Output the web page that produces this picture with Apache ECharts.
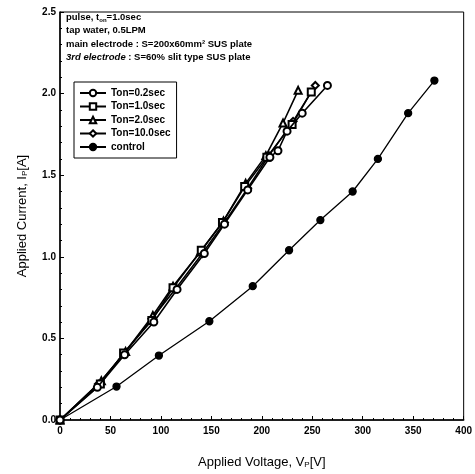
<!DOCTYPE html>
<html>
<head>
<meta charset="utf-8">
<script src="https://cdn.jsdelivr.net/npm/echarts@6/dist/echarts.min.js"></script>
<style>
  html, body { margin: 0; padding: 0; background: #fff; }
  #chart { width: 475px; height: 474px; }
</style>
</head>
<body>
<div id="chart"></div>
<script>
// data: [voltage V, current A]
const ton02 = [[0,0],[37,0.20],[64,0.40],[93,0.60],[116,0.80],[143,1.02],[163,1.20],[186,1.41],[208,1.61],[216,1.65],[225,1.77],[240,1.88],[265,2.05]];
const ton10 = [[0,0],[40,0.22],[63,0.41],[91,0.61],[112,0.81],[140,1.04],[161,1.21],[183,1.43],[205,1.61],[230,1.81],[249,2.01]];
const ton20 = [[0,0],[41,0.24],[65,0.42],[92,0.64],[112,0.82],[139,1.03],[162,1.22],[184,1.45],[204,1.62],[221,1.82],[236,2.02]];
const ton100 = [[0,0],[38,0.22],[64,0.41],[91,0.62],[114,0.80],[141,1.02],[163,1.21],[186,1.42],[207,1.62],[231,1.83],[253,2.05]];
const control = [[0,0],[56,0.205],[98,0.395],[148,0.605],[191,0.82],[227,1.04],[258,1.225],[290,1.40],[315,1.60],[345,1.88],[371,2.08]];

const seriesNames = ['Ton=0.2sec', 'Ton=1.0sec', 'Ton=2.0sec', 'Ton=10.0sec', 'control'];
const seriesData = [ton02, ton10, ton20, ton100, control];
const seriesSymbols = ['emptyCircle', 'emptyRect', 'emptyTriangle', 'emptyDiamond', 'circle'];

const font = 'Liberation Sans, Arial, sans-serif';

const chart = echarts.init(document.getElementById('chart'));

const option = {
  backgroundColor: '#fff',
  animation: false,
  grid: {
    left: 60, right: 8, top: 12, bottom: 51,
    show: true, borderColor: '#000', borderWidth: 1
  },
  xAxis: {
    type: 'value', min: 0, max: 400, interval: 50,
    name: '{a|Applied Voltage, V}{s|P}{a|[V]}',
    nameLocation: 'middle', nameGap: 35,
    nameTextStyle: {
      rich: {
        a: { fontFamily: font, fontSize: 13, color: '#000' },
        s: { fontFamily: font, fontSize: 8, color: '#000', verticalAlign: 'bottom', padding: [6, 0, 0, 0] }
      }
    },
    axisLine: { lineStyle: { color: '#000', width: 1.5 } },
    axisTick: { inside: true, length: 4, lineStyle: { color: '#000' } },
    minorTick: { show: true, splitNumber: 5, length: 2, lineStyle: { color: '#000' } },
    splitLine: { show: false },
    axisLabel: { fontFamily: font, fontSize: 10, fontWeight: 'bold', color: '#000', margin: 6 }
  },
  yAxis: {
    type: 'value', min: 0, max: 2.5, interval: 0.5,
    name: '{a|Applied Current, I}{s|P}{a|[A]}',
    nameLocation: 'middle', nameGap: 31, nameRotate: 90,
    nameTextStyle: {
      rich: {
        a: { fontFamily: font, fontSize: 13, color: '#000' },
        s: { fontFamily: font, fontSize: 8, color: '#000', verticalAlign: 'bottom', padding: [6, 0, 0, 0] }
      }
    },
    axisLine: { lineStyle: { color: '#000', width: 1.5 } },
    axisTick: { inside: true, length: 4, lineStyle: { color: '#000' } },
    minorTick: { show: true, splitNumber: 5, length: 2, lineStyle: { color: '#000' } },
    splitLine: { show: false },
    axisLabel: {
      fontFamily: font, fontSize: 10, fontWeight: 'bold', color: '#000', margin: 4,
      formatter: v => v.toFixed(1)
    }
  },
  legend: {
    orient: 'vertical', left: 74, top: 82,
    itemWidth: 26, itemHeight: 8, itemGap: 3.5,
    padding: [6, 6, 6, 5],
    borderColor: '#000', borderWidth: 1,
    textStyle: { fontFamily: font, fontSize: 10, fontWeight: 'bold', color: '#000' },
    data: seriesNames
  },
  graphic: [{
    type: 'text', left: 66, top: 12,
    style: {
      text: '{b|pulse, t}{s|on}{b|=1.0sec}\n{b|tap water, 0.5LPM}\n{b|main electrode : S=200x60mm² SUS plate}\n{i|3rd electrode}{b| : S=60% slit type SUS plate}',
      rich: {
        b: { fontFamily: font, fontSize: 9.5, fontWeight: 'bold', fill: '#000', lineHeight: 13.5 },
        i: { fontFamily: font, fontSize: 9.5, fontWeight: 'bold', fontStyle: 'italic', fill: '#000', lineHeight: 13.5 },
        s: { fontFamily: font, fontSize: 6, fontWeight: 'bold', fill: '#000', verticalAlign: 'bottom', lineHeight: 13.5, padding: [5, 0, 0, 0] }
      }
    }
  }],
  series: seriesNames.map((name, i) => ({
    name: name,
    type: 'line',
    data: seriesData[i],
    symbol: seriesSymbols[i],
    symbolSize: 7,
    showAllSymbol: true,
    lineStyle: { color: '#000', width: i === 4 ? 1.3 : 1.6 },
    itemStyle: { color: '#000', borderColor: '#000', borderWidth: 1.3 },
    z: 10 - i
  }))
};

chart.setOption(option);
</script>
</body>
</html>
